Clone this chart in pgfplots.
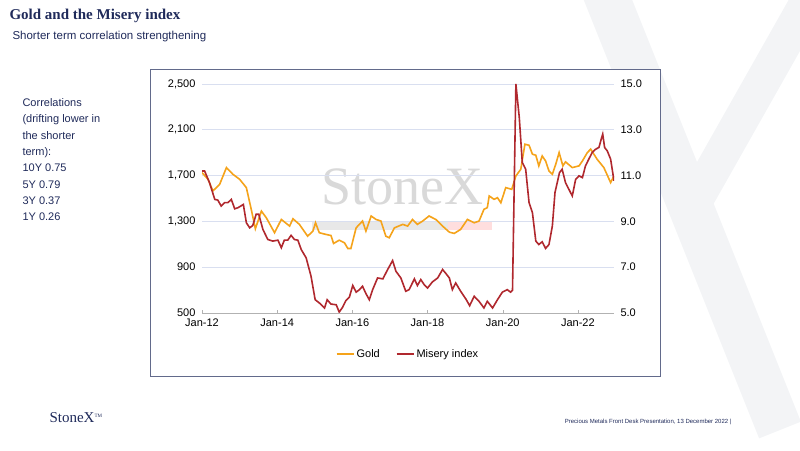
\documentclass[border=0pt]{standalone}
\usepackage{pgfplots}
\pgfplotsset{compat=1.18}
\usepackage{fontspec}
\setmainfont{Liberation Sans}
\newfontfamily\seriffont{Liberation Serif}
\definecolor{navy}{HTML}{1F2A5A}
\definecolor{goldc}{HTML}{F5A31A}
\definecolor{redc}{HTML}{B0282E}
\definecolor{gridc}{HTML}{D9DFF0}
\definecolor{wm}{HTML}{F3F4F6}
\begin{document}
\begin{tikzpicture}
\begin{scope}[x=1pt,y=1pt]
\path[use as bounding box] (0,0) rectangle (800,450);
\begin{scope}
\clip (0,0) rectangle (800,450);
\draw[wm,line width=45pt] (600,470) -- (780,20);
\draw[wm,line width=35pt] (820,470) -- (690,240);
\end{scope}
\node[anchor=west,font=\seriffont\bfseries\fontsize{15}{17}\selectfont,text=navy] at (6,434) {Gold and the Misery index};
\node[anchor=west,font=\fontsize{11.5}{13}\selectfont,text=navy] at (9,413) {Shorter term correlation strengthening};
\node[anchor=north west,align=left,font=\fontsize{11}{16.3}\selectfont,text=navy] at (19,355) {Correlations\\(drifting lower in\\the shorter\\term):\\10Y 0.75\\5Y 0.79\\3Y 0.37\\1Y 0.26};
\node[anchor=west,font=\seriffont\fontsize{15}{16}\selectfont,text=navy] at (46,32) {StoneX\textsuperscript{\tiny TM}};
\node[anchor=east,font=\fontsize{6}{7}\selectfont,text=navy] at (735,28) {Precious Metals Front Desk Presentation, 13 December 2022 |};
\draw[fill=white,draw=navy!70,line width=0.6pt] (150,74) rectangle (660,381);
\node[font=\seriffont\fontsize{54}{56}\selectfont,text=gray!30] at (402,263) {StoneX};
\fill[gray!18] (312,220) rectangle (448,228);
\fill[red!13] (448,220) rectangle (492,228);
\end{scope}
\begin{axis}[at={(202pt,137pt)},anchor=south west,scale only axis,width=412pt,height=229pt,
 xmin=0,xmax=10.96,ymin=500,ymax=2500,
 ytick={500,900,1300,1700,2100,2500},
 yticklabel style={xshift=-3pt,/pgf/number format/.cd,1000 sep={,},fixed},
 xtick={0,2,4,6,8,10},xticklabels={Jan-12,Jan-14,Jan-16,Jan-18,Jan-20,Jan-22},
 xticklabel style={yshift=-2pt},
 axis y line*=left,axis x line*=bottom,
 y axis line style={draw=none},
 x axis line style={draw=gray!60,-},
 ymajorgrids,grid style={gridc,line width=0.8pt},
 major tick length=3pt, xtick style={gray!60}, ytick style={draw=none},
 tick label style={font=\fontsize{11}{13}\selectfont},
 /pgf/number format/assume math mode=true]
\addplot[goldc,line width=1.6pt] coordinates {
(0,1726)(.16,1668)(.29,1566)(.47,1624)(.65,1770)(.82,1712)(1.0,1668)(1.18,1595)(1.31,1405)(1.42,1236)(1.58,1390)(1.71,1332)(1.93,1201)(2.11,1317)(2.33,1259)(2.42,1323)(2.59,1274)(2.81,1171)(2.95,1215)(3.02,1288)(3.12,1201)(3.30,1186)(3.43,1177)(3.50,1107)(3.65,1136)(3.79,1113)(3.88,1063)(3.96,1063)(4.10,1244)(4.27,1303)(4.36,1215)(4.50,1347)(4.63,1317)(4.76,1303)(4.89,1171)(4.98,1157)(5.12,1244)(5.34,1274)(5.47,1259)(5.60,1317)(5.73,1274)(5.87,1303)(6.04,1347)(6.22,1317)(6.40,1259)(6.58,1206)(6.71,1195)(6.88,1230)(7.06,1317)(7.24,1288)(7.37,1303)(7.50,1405)(7.59,1420)(7.64,1522)(7.77,1493)(7.86,1507)(7.95,1463)(8.08,1595)(8.24,1580)(8.35,1697)(8.48,1755)(8.59,1974)(8.70,1965)(8.79,1887)(8.88,1878)(8.96,1785)(9.05,1872)(9.14,1828)(9.23,1741)(9.32,1712)(9.41,1799)(9.50,1901)(9.60,1785)(9.67,1820)(9.85,1770)(10.03,1785)(10.12,1828)(10.25,1901)(10.34,1931)(10.51,1843)(10.69,1770)(10.87,1639)(10.96,1697)};
\end{axis}
\begin{axis}[at={(202pt,137pt)},anchor=south west,scale only axis,width=412pt,height=229pt,
 xmin=0,xmax=10.96,ymin=5,ymax=15,
 ytick={5,7,9,11,13,15},
 yticklabel style={xshift=3pt,/pgf/number format/.cd,fixed,fixed zerofill,precision=1},
 axis y line*=right,axis x line=none,
 y axis line style={draw=none},ytick style={draw=none},
 tick label style={font=\fontsize{11}{13}\selectfont},
 /pgf/number format/assume math mode=true,
 legend style={at={(0.5,-0.14)},anchor=north,draw=none,fill=none,legend columns=2,font=\fontsize{11}{13}\selectfont,/tikz/every even column/.append style={column sep=14pt}}]
\addlegendimage{color=goldc,line width=1.8pt}\addlegendentry{Gold}
\addplot[redc,line width=1.6pt] coordinates {
(0,11.20)(.07,11.20)(.20,10.69)(.34,9.96)(.42,9.93)(.51,9.67)(.60,9.82)(.69,9.82)(.78,9.96)(.87,9.55)(.96,9.60)(1.1,9.74)(1.18,8.94)(1.27,8.72)(1.35,8.82)(1.44,9.31)(1.51,9.31)(1.62,8.65)(1.75,8.21)(1.88,8.14)(2.02,8.18)(2.11,7.85)(2.19,8.18)(2.28,8.18)(2.37,8.39)(2.46,8.21)(2.55,8.18)(2.64,7.77)(2.77,7.41)(2.90,6.61)(3.01,5.58)(3.12,5.44)(3.26,5.22)(3.33,5.58)(3.43,5.39)(3.57,5.36)(3.65,5.04)(3.74,5.25)(3.83,5.55)(3.92,5.69)(4.01,6.20)(4.10,5.91)(4.19,6.02)(4.27,6.17)(4.36,5.85)(4.45,5.58)(4.54,6.02)(4.67,6.53)(4.81,6.49)(4.94,6.90)(5.07,7.29)(5.16,6.82)(5.29,6.53)(5.42,5.95)(5.51,6.02)(5.65,6.49)(5.73,6.20)(5.82,6.46)(5.91,6.24)(6.00,6.09)(6.13,6.36)(6.27,6.53)(6.40,6.90)(6.49,6.72)(6.58,6.53)(6.66,6.02)(6.75,6.31)(6.88,5.95)(7.02,5.61)(7.12,5.32)(7.24,5.73)(7.37,5.51)(7.50,5.22)(7.59,5.51)(7.73,5.22)(7.86,5.58)(7.99,5.91)(8.12,6.02)(8.21,5.91)(8.26,5.99)(8.35,15.0)(8.44,13.54)(8.52,11.57)(8.61,11.28)(8.70,9.82)(8.79,9.38)(8.88,8.14)(8.96,7.99)(9.05,8.11)(9.14,7.82)(9.23,7.99)(9.32,8.80)(9.39,10.26)(9.51,11.13)(9.58,11.28)(9.67,10.69)(9.76,10.40)(9.85,10.11)(9.94,10.84)(10.03,10.99)(10.12,10.91)(10.20,11.42)(10.29,11.72)(10.38,12.01)(10.47,12.15)(10.56,12.23)(10.62,12.59)(10.66,12.81)(10.71,12.23)(10.78,12.08)(10.87,11.72)(10.96,10.77)};
\addlegendentry{Misery index}
\end{axis}
\end{tikzpicture}
\end{document}
